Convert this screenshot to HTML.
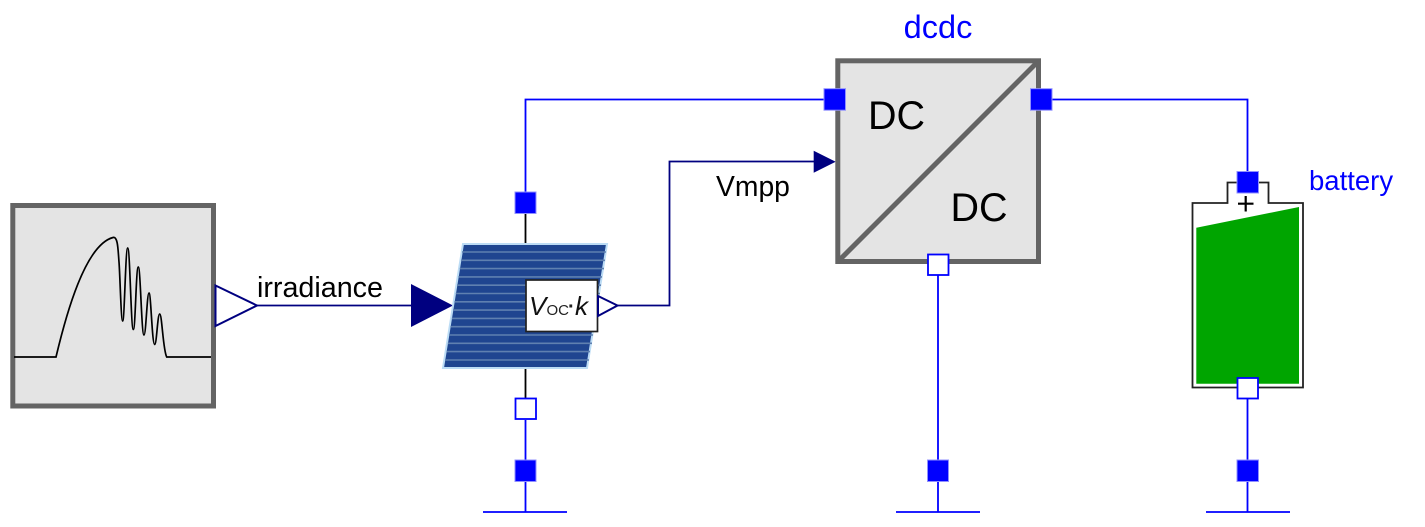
<!DOCTYPE html>
<html><head><meta charset="utf-8"><style>
html,body{margin:0;padding:0;background:#fff}
svg{display:block}
text{font-family:"Liberation Sans",sans-serif}
</style></head><body>
<svg width="1425" height="527" viewBox="0 0 1425 527" xmlns="http://www.w3.org/2000/svg">
<!-- source block -->
<rect x="12.8" y="205.5" width="200.7" height="200.5" fill="#e4e4e4" stroke="#646464" stroke-width="5"/>
<path d="M14 357H56C66 315 85 245 113 237.5C118 236 118 250 119 262S121 321 122.700 321C124.500 321 125.500 248 127.700 248C130 248 131 329.500 133.300 329.500C135.500 329.500 136 267 138.300 267C140.500 267 141.500 335 144 335C146 335 147 293 149 293C151 293 152 344.500 154.700 344.500C156.700 344.500 157.500 314 159.700 314C162 314 163 350 166.700 357H211" fill="none" stroke="#000" stroke-width="1.700"/>
<path d="M215.500 285.500L257 305.500L215.500 326Z" fill="#fff" stroke="#000080" stroke-width="2"/>
<text x="257" y="297" font-size="28.700" fill="#000">irradiance</text>
<!-- navy wires -->
<path d="M257 305.500H412" fill="none" stroke="#000080" stroke-width="1.800"/>
<path d="M617 305.500H669.500V161.500H814" fill="none" stroke="#000080" stroke-width="1.800"/>
<path d="M411 284L453 305.500L411 327Z" fill="#000080"/>
<path d="M813.700 150.700L835.700 161.700L813.700 172.700Z" fill="#000080"/>
<text x="716" y="196" font-size="28.300" fill="#000">Vmpp</text>
<!-- blue wires -->
<path d="M525.500 192V99.500H824M1052 99.500H1247.500V172M525.500 420V512M483 512H567M938 275V512M896 512H980M1247.500 399V512M1206 512H1290" fill="none" stroke="#0000ff" stroke-width="1.800"/>
<!-- black stubs -->
<path d="M525.500 214V244M525.500 368V398" stroke="#000" stroke-width="1.800"/>
<!-- PV panel -->
<path d="M463 244H607L587 368H443Z" fill="#1f4590" stroke="#bcdcf5" stroke-width="2"/>
<g stroke="#5f80b0" stroke-width="1.600">
<path d="M462 252H606M461 260.300H605M459.700 268.600H604M458.400 276.900H602M457 285.200H601M455.700 293.500H600M454.400 301.800H599M453 310.100H597M451.800 318.400H596M450.400 326.700H594M449 335H593M447.800 343.300H592M446.500 351.600H590M445 360H589" fill="none"/>
</g>
<rect x="526" y="280" width="71.500" height="51.500" fill="#fff" stroke="#222" stroke-width="1.700"/>
<text x="529" y="315" font-size="26" font-style="italic" fill="#111">V</text>
<text x="546.500" y="315" font-size="15" fill="#222">OC</text>
<text x="568" y="313" font-size="20" font-weight="bold" fill="#222">·</text>
<text x="575" y="315" font-size="26" font-style="italic" fill="#111">k</text>
<path d="M598 296L617.500 305.500L598 316Z" fill="#fff" stroke="#000080" stroke-width="2"/>
<!-- DC-DC -->
<rect x="837.800" y="60.800" width="200.700" height="200.700" fill="#e4e4e4" stroke="#646464" stroke-width="5"/>
<path d="M838 261.500L1038.500 61" stroke="#646464" stroke-width="5" fill="none"/>
<text x="868" y="129" font-size="39.500" fill="#000">DC</text>
<text x="950.500" y="221" font-size="39.500" fill="#000">DC</text>
<text x="938" y="38" font-size="32.500" fill="#0000ff" text-anchor="middle">dcdc</text>
<!-- battery -->
<path d="M1192.500 203H1227.500V182.500H1268.500V203H1303V387.500H1192.500Z" fill="#fff" stroke="#222" stroke-width="1.800"/>
<path d="M1196.300 227.700L1299 207V383.700H1196.300Z" fill="#00a500"/>
<path d="M1245.700 196V211.500M1238 203.700H1253.500" stroke="#000" stroke-width="2.200" fill="none"/>
<text x="1309" y="190" font-size="27.500" fill="#0000ff">battery</text>
<!-- ports -->
<g fill="#0000ff" stroke="#9090ff" stroke-width="1">
<rect x="515" y="192" width="21" height="21.500"/>
<rect x="824" y="88.700" width="21.500" height="21.500"/>
<rect x="1030.500" y="88.700" width="21.500" height="21.500"/>
<rect x="1237" y="171.500" width="21.500" height="21.500"/>
<rect x="515" y="460" width="21" height="21.500"/>
<rect x="927.500" y="460" width="21" height="21.500"/>
<rect x="1237" y="460" width="21.500" height="21.500"/>
</g>
<g fill="#fff" stroke="#0000ff" stroke-width="1.800">
<rect x="515.500" y="398.500" width="20.500" height="20.500"/>
<rect x="928" y="254.500" width="20.500" height="20.500"/>
<rect x="1237.500" y="378" width="20.500" height="20.500"/>
</g>
</svg>
</body></html>
